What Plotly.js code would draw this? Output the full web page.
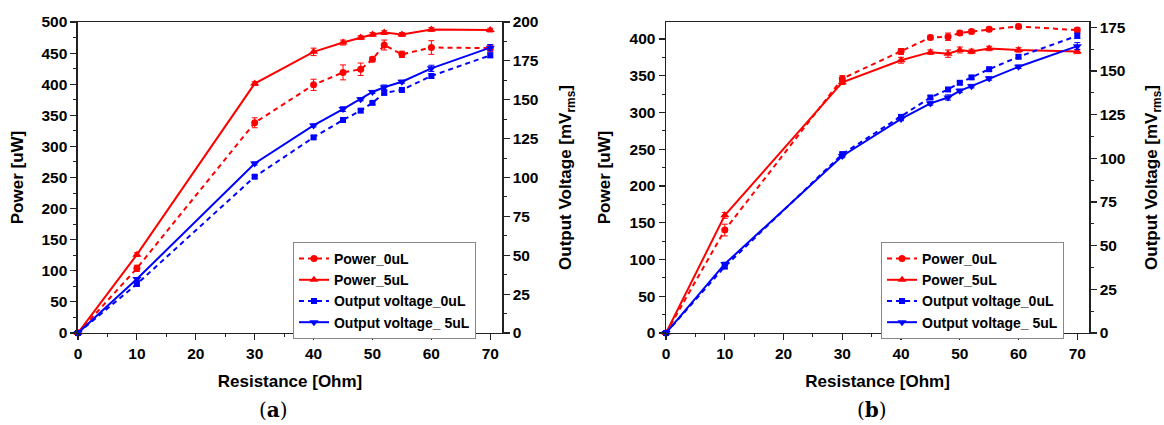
<!DOCTYPE html>
<html>
<head>
<meta charset="utf-8">
<script src="https://cdn.plot.ly/plotly-3.0.1.min.js"></script>
<style>html,body{margin:0;padding:0;background:#fff;}#chart{width:1164px;height:425px;}</style>
</head>
<body>
<div id="chart"></div>
<script>
// Shared x values (Resistance, Ohm)
const resistance = [0, 10, 30, 40, 45, 48, 50, 52, 55, 60, 70];
const xTickVals = [0, 10, 20, 30, 40, 50, 60, 70];

// Panel (a)
const powerA0 = [0, 104, 338, 399, 419, 424, 440, 463, 448, 459, 458];
const powerA0Err = [0, 5, 8, 9, 12, 10, 4, 8, 5, 11, 5];
const powerA5 = [0, 126, 401, 452, 467, 475, 480, 483, 480, 488, 487];
const powerA5Err = [0, 3, 3, 6, 4, 3, 3, 3, 3, 3, 3];
const voltA0 = [0, 31.5, 100.5, 125.8, 137, 143, 148, 154.5, 156.3, 165.3, 178.6];
const voltA0Err = [0, 1, 1, 1, 1.5, 1, 1, 1.5, 1, 1.5, 1.5];
const voltA5 = [0, 34.7, 109, 133.5, 144, 150.3, 155, 158, 161.6, 170.2, 183.5];
const voltA5Err = [0, 1, 1, 1, 1.5, 1, 1, 1.5, 1, 2, 2];

// Panel (b)
const powerB0 = [0, 140, 346, 383, 402, 403, 408, 410, 413, 417, 412];
const powerB0Err = [0, 8, 4, 4, 3, 5, 3, 3, 3, 3, 3];
const powerB5 = [0, 160, 341, 371, 382, 380, 385, 383, 387, 385, 383];
const powerB5Err = [0, 4, 3, 4, 3, 5, 4, 3, 3, 3, 3];
const voltB0 = [0, 38, 102.4, 123.7, 134.8, 139.4, 143.2, 146.3, 151, 158.1, 170.1];
const voltB0Err = [0, 1, 1, 1, 1, 1, 1, 1, 1, 1, 1.5];
const voltB5 = [0, 39.5, 101.3, 122.5, 131.4, 134.8, 138.6, 141.3, 145.7, 152.4, 164.2];
const voltB5Err = [0, 1, 1, 1, 1, 1.5, 1, 1, 1, 1, 2];

const seriesNames = ['Power_0uL', 'Power_5uL', 'Output voltage_0uL', 'Output voltage_ 5uL'];

const RED = '#ff0000', BLUE = '#0000ff';
const FONT = 'Liberation Sans, Arial, sans-serif';

function tr(y, err, name, color, dash, symbol, msize, xa, ya, legend) {
  return {
    x: resistance, y: y, name: name, type: 'scatter', mode: 'lines+markers',
    xaxis: xa, yaxis: ya, legend: legend, cliponaxis: false,
    line: {color: color, width: 2, dash: dash},
    marker: {color: color, symbol: symbol, size: msize},
    error_y: {type: 'data', array: err, visible: true, color: color, thickness: 1, width: 3}
  };
}

const DASH = '5px,4px';
const data = [
  tr(powerA0, powerA0Err, seriesNames[0], RED, DASH, 'circle', 7, 'x', 'y', 'legend'),
  tr(powerA5, powerA5Err, seriesNames[1], RED, 'solid', 'triangle-up', 8, 'x', 'y', 'legend'),
  tr(voltA0, voltA0Err, seriesNames[2], BLUE, DASH, 'square', 6, 'x', 'y2', 'legend'),
  tr(voltA5, voltA5Err, seriesNames[3], BLUE, 'solid', 'triangle-down', 8, 'x', 'y2', 'legend'),
  tr(powerB0, powerB0Err, seriesNames[0], RED, DASH, 'circle', 7, 'x2', 'y3', 'legend2'),
  tr(powerB5, powerB5Err, seriesNames[1], RED, 'solid', 'triangle-up', 8, 'x2', 'y3', 'legend2'),
  tr(voltB0, voltB0Err, seriesNames[2], BLUE, DASH, 'square', 6, 'x2', 'y4', 'legend2'),
  tr(voltB5, voltB5Err, seriesNames[3], BLUE, 'solid', 'triangle-down', 8, 'x2', 'y4', 'legend2')
];

const tickFont = {family: FONT, size: 15.5, color: '#000', weight: 'bold'};
const titleFont = {family: FONT, size: 17, color: '#000', weight: 'bold'};
const LINE = '#222';

function xAxis(domain, anchor) {
  return {
    domain: domain, anchor: anchor, range: [0, 72],
    tickvals: xTickVals, ticks: 'outside', ticklen: 6, tickwidth: 1.2, tickcolor: LINE,
    minor: {dtick: 5, tick0: 0, ticks: 'outside', ticklen: 3, tickcolor: LINE, tickwidth: 1},
    showline: true, linecolor: LINE, linewidth: 1.5, mirror: true,
    showgrid: false, zeroline: false, tickfont: tickFont,
    title: {text: 'Resistance [Ohm]', font: titleFont, standoff: 14},
    automargin: false
  };
}
function yAxis(range, dtick, minorDtick, side, anchor, overlaying, title, standoff) {
  const ax = {
    range: range, dtick: dtick, tick0: 0, side: side, anchor: anchor,
    ticks: 'outside', ticklen: 6, tickwidth: 1.2, tickcolor: LINE,
    minor: {dtick: minorDtick, tick0: 0, ticks: 'outside', ticklen: 3, tickcolor: LINE, tickwidth: 1},
    showline: true, linecolor: LINE, linewidth: 1.5,
    showgrid: false, zeroline: false, tickfont: tickFont,
    title: {text: title, font: titleFont, standoff: standoff},
    automargin: false
  };
  if (overlaying) ax.overlaying = overlaying;
  else ax.domain = [0.2165, 0.9482];
  return ax;
}

const legendBase = {
  font: {family: FONT, size: 14, color: '#000', weight: 'bold'},
  bgcolor: '#ffffff', bordercolor: '#888', borderwidth: 1,
  xanchor: 'left', yanchor: 'top', itemwidth: 30, tracegroupgap: 0,
  traceorder: 'normal'
};

const layout = {
  width: 1164, height: 425,
  margin: {l: 0, r: 0, t: 0, b: 0},
  paper_bgcolor: '#fff', plot_bgcolor: '#fff',
  showlegend: true,
  xaxis: xAxis([0.0670, 0.4313], 'y'),
  yaxis: yAxis([0, 500], 50, 25, 'left', 'x', null, 'Power [uW]', 13),
  yaxis2: yAxis([0, 200], 25, 12.5, 'right', 'x', 'y', 'Output Voltage [mV<sub>rms</sub>]', 21),
  xaxis2: xAxis([0.5722, 0.9356], 'y3'),
  yaxis3: yAxis([0, 423], 50, 25, 'left', 'x2', null, 'Power [uW]', 14),
  yaxis4: yAxis([0, 178], 25, 12.5, 'right', 'x2', 'y3', 'Output Voltage [mV<sub>rms</sub>]', 22),
  legend: Object.assign({}, legendBase, {x: 0.2517, y: 0.4306}),
  legend2: Object.assign({}, legendBase, {x: 0.7569, y: 0.4306}),
  annotations: [
    {text: '(<b>a</b>)', xref: 'paper', yref: 'paper', x: 273 / 1164, y: 1 - 410 / 425,
     xanchor: 'center', yanchor: 'middle', showarrow: false,
     font: {family: 'DejaVu Serif, Liberation Serif, serif', size: 20, color: '#000'}},
    {text: '(<b>b</b>)', xref: 'paper', yref: 'paper', x: 872 / 1164, y: 1 - 410 / 425,
     xanchor: 'center', yanchor: 'middle', showarrow: false,
     font: {family: 'DejaVu Serif, Liberation Serif, serif', size: 20, color: '#000'}}
  ]
};

Plotly.newPlot('chart', data, layout, {displayModeBar: false, staticPlot: true});
</script>
</body>
</html>
